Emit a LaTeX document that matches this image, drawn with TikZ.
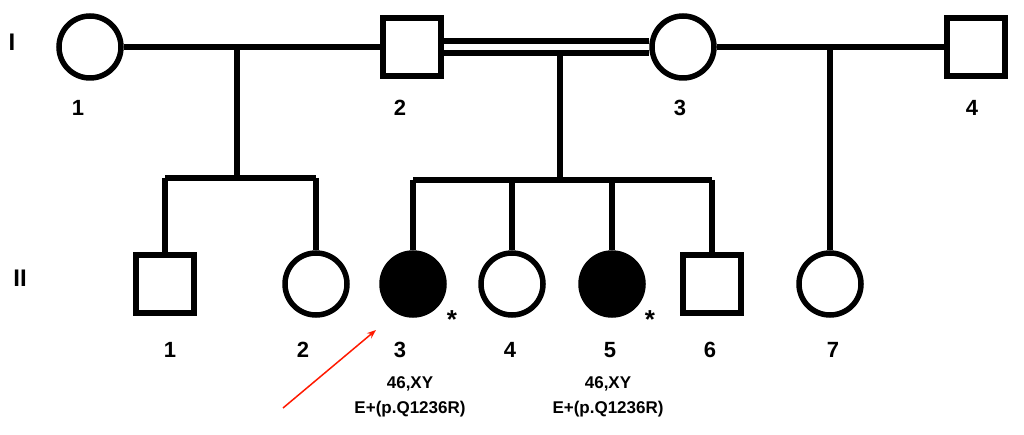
\documentclass[tikz,border=0pt]{standalone}
\usepackage{fontspec}
\setmainfont{Liberation Sans}
\usetikzlibrary{arrows.meta}
\begin{document}
\begin{tikzpicture}[x=1pt,y=-1pt,line width=6pt,
  male/.style={draw,minimum size=58pt,inner sep=0pt,line width=5.5pt},
  female/.style={draw,circle,minimum size=62pt,inner sep=0pt,line width=5.5pt},
  aff/.style={fill=black},
  lab/.style={font=\bfseries\fontsize{22}{24}\selectfont},
  gen/.style={font=\bfseries\fontsize{24}{26}\selectfont},
  note/.style={font=\bfseries\fontsize{17}{19}\selectfont},
  star/.style={font=\bfseries\fontsize{26}{26}\selectfont},
  pointer/.style={red!80!orange,line width=1.5pt,-{Stealth[length=9pt]}}]
\useasboundingbox (0,0) rectangle (1024,435);
\node[gen] (g1) at (12,42) {I};
\node[gen] (g2) at (20,278) {II};
% generation I
\node[female] (a1) at (90,47) {};
\node[male] (a2) at (412,47) {};
\node[female] (a3) at (683,47) {};
\node[male] (a4) at (976,47) {};
\foreach \n/\x in {1/78,2/400,3/680,4/972} \node[lab] (la\n) at (\x,108) {\n};
\draw (a1.east) -- (a2.west);
\draw ([yshift=-6pt]a2.east) -- ([yshift=-6pt]a3.west);
\draw ([yshift=6pt]a2.east) -- ([yshift=6pt]a3.west);
\draw (a3.east) -- (a4.west);
% generation II
\node[male] (b1) at (165,284) {};
\node[female] (b2) at (316,284) {};
\node[female,aff] (b3) at (413,284) {};
\node[female] (b4) at (512,284) {};
\node[female,aff] (b5) at (612,284) {};
\node[male] (b6) at (712,284) {};
\node[female] (b7) at (830,284) {};
\foreach \n/\x in {1/170,2/303,3/400,4/510,5/610,6/710,7/833} \node[lab] (lb\n) at (\x,350) {\n};
\node[star] (s3) at (452,320) {*};
\node[star] (s5) at (650,320) {*};
% descent lines
\coordinate (d1) at (237,47);
\coordinate (s1) at (237,178);
\draw (d1) -- (s1);
\draw (b1.north |- s1) -- (b2.north |- s1);
\draw (b1.north |- s1) -- (b1.north);
\draw (b2.north |- s1) -- (b2.north);
\coordinate (d2) at (560,53);
\coordinate (s2) at (560,180);
\draw (d2) -- (s2);
\draw (b3.north |- s2) -- (b6.north |- s2);
\foreach \b in {b3,b4,b5,b6} \draw (\b.north |- s2) -- (\b.north);
\coordinate (d3) at (830,47);
\draw (d3) -- (b7.north);
% notes
\node[note] (n3a) at (410,384) {46,XY};
\node[note] (n3b) at (410,409) {E+(p.Q1236R)};
\node[note] (n5a) at (608,384) {46,XY};
\node[note] (n5b) at (608,409) {E+(p.Q1236R)};
\coordinate (ar0) at (283,408);
\coordinate (ar1) at (376,330);
\draw[pointer] (ar0) -- (ar1);
\end{tikzpicture}
\end{document}
